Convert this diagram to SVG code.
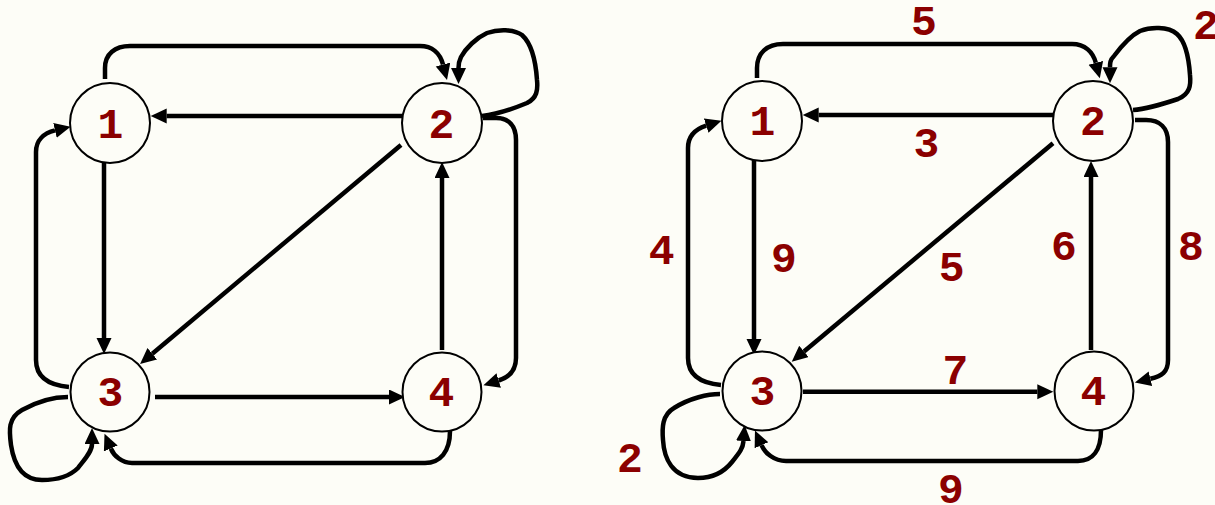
<svg xmlns="http://www.w3.org/2000/svg" width="1215" height="505" viewBox="0 0 1215 505">
<defs>
<marker id="ah" markerUnits="userSpaceOnUse" markerWidth="18" markerHeight="16" refX="0" refY="7.5" orient="auto" viewBox="0 0 18 16">
<path d="M0,0 L16,7.5 L0,15 z" fill="#000"/>
</marker>
<style>
.bg{fill:#fdfdf7}
.node circle{fill:#fdfdf7;stroke:#000;stroke-width:2}
.lbl{font-family:"Liberation Mono","DejaVu Sans Mono",monospace;font-weight:bold;font-size:43px;fill:#8b0000;text-anchor:middle}
.edges path{fill:none;stroke:#000;stroke-width:4.5;marker-end:url(#ah)}
</style>
</defs>
<rect class="bg" x="0" y="0" width="1215" height="505"/>

<g id="connectors-left" class="edges">
<path d="M105,79 L105,68 C105,54 115,46 130,46 L420,46 C432,46 440,53 443,64.5"/>
<path d="M482,116 C500,114 515,108 527,103 C537,98 538,90 537,80 C536,65 533,45 522,35 C514,29 498,29 487,33 C476,38 466,48 461,57 C459,61 458.5,64 458.5,68"/>
<path d="M402,116 L166.7,116"/>
<path d="M401,145 L152.3,353.7"/>
<path d="M104,163 L104,338"/>
<path d="M69,387 C47,385 36,376 36,360 L36,152 C36,140 44,133 55,130.4"/>
<path d="M68,397 C55,397 40,400 22,410 C8,418 9,430 11,445 C14,465 22,480 42,480 C58,480 70,476 78,468 C84,460 92,452 92,444"/>
<path d="M155,397 L389,397"/>
<path d="M442,350 L442,178"/>
<path d="M483,118 L496,118 C509,118 516,126 516,140 L516,358 C516,370 510,377 498.7,380.5"/>
<path d="M450,431 C450,452 440,463 425,463 L132,463 C122,463 114,456 110.8,448.5"/>
</g>

<g id="connectors-right" class="edges">
<path d="M757,78 L757,68 C757,53 767,44 783,44 L1072,44 C1085,44 1093,52 1095.8,62.8"/>
<path d="M1133,110 C1145,109 1160,105 1178,99 C1190,94 1191,85 1190,75 C1189,60 1186,42 1177,34 C1168,26 1150,27 1140,31 C1130,36 1120,48 1114,56 C1110,60 1110,63 1110,67.3"/>
<path d="M1053,115 L818.7,115"/>
<path d="M1053,143.3 L804,351.4"/>
<path d="M754,160 L754,339"/>
<path d="M721,385 C699,383 688,374 688,358 L688,148 C688,136 696,129 706.2,125.7"/>
<path d="M720,394 C708,394 690,398 674,408 C662,415 662,428 663,440 C664,458 672,478 698,478 C714,478 724,472 732,462 C740,452 743,448 743.5,441"/>
<path d="M803,391.7 L1037.3,391.7"/>
<path d="M1091,350 L1091,177"/>
<path d="M1135,120 L1146,120 C1160,120 1168,128 1168,142 L1168,360 C1168,372 1162,376 1150.4,378.8"/>
<path d="M1101,430 C1101,450 1093,461 1078,461 L786,461 C774,461 765,453 761.5,445.2"/>
</g>

<g id="L1" class="node"><circle cx="110" cy="123" r="40"/><text class="lbl" x="110.5" y="137.5">1</text></g>
<g id="L2" class="node"><circle cx="442" cy="123" r="40"/><text class="lbl" x="441.5" y="138">2</text></g>
<g id="L3" class="node"><circle cx="110" cy="392" r="39.5"/><text class="lbl" x="110.5" y="405.5">3</text></g>
<g id="L4" class="node"><circle cx="442" cy="392" r="39.5"/><text class="lbl" x="441.5" y="406">4</text></g>

<g id="R1" class="node"><circle cx="762" cy="121" r="40"/><text class="lbl" x="762.5" y="135">1</text></g>
<g id="R2" class="node"><circle cx="1093" cy="121" r="40"/><text class="lbl" x="1093" y="135">2</text></g>
<g id="R3" class="node"><circle cx="762" cy="391" r="39.5"/><text class="lbl" x="762.3" y="405">3</text></g>
<g id="R4" class="node"><circle cx="1094" cy="391" r="39.5"/><text class="lbl" x="1093.3" y="405">4</text></g>

<g id="edge-labels">
<text class="lbl" x="924" y="35">5</text>
<text class="lbl" x="1206" y="39">2</text>
<text class="lbl" x="926.5" y="156.5">3</text>
<text class="lbl" x="661.7" y="264">4</text>
<text class="lbl" x="784" y="271.5">9</text>
<text class="lbl" x="951.7" y="280.5">5</text>
<text class="lbl" x="1064" y="260">6</text>
<text class="lbl" x="1191" y="260">8</text>
<text class="lbl" x="955.5" y="384">7</text>
<text class="lbl" x="951" y="503">9</text>
<text class="lbl" x="630" y="471.5">2</text>
</g>
</svg>
